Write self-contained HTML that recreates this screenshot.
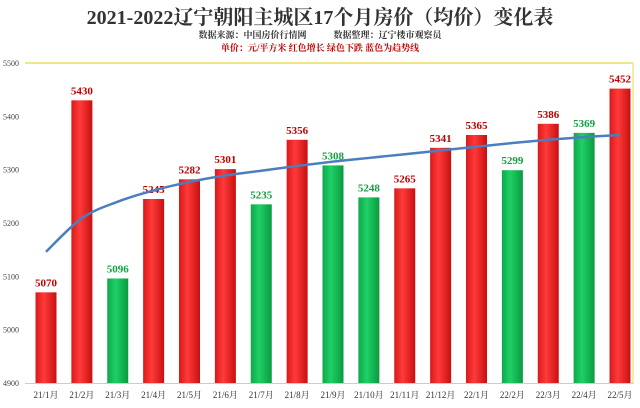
<!DOCTYPE html>
<html><head><meta charset="utf-8"><style>
body{margin:0;background:#fff;}
svg{display:block;font-family:"Liberation Serif","Noto Serif CJK SC",serif;}
</style></head><body>
<svg width="640" height="408" viewBox="0 0 640 408">
<defs>
<linearGradient id="gr" x1="0" x2="1"><stop offset="0" stop-color="#d91a1a"/><stop offset="0.4" stop-color="#ff3a3a"/><stop offset="1" stop-color="#c81010"/></linearGradient>
<linearGradient id="gg" x1="0" x2="1"><stop offset="0" stop-color="#0fa84a"/><stop offset="0.4" stop-color="#1fd066"/><stop offset="1" stop-color="#0a9a40"/></linearGradient>
</defs>
<rect x="0" y="0" width="640" height="408" fill="#fff"/>
<text x="320" y="24" text-anchor="middle" font-size="20" font-weight="bold" fill="#333">2021-2022辽宁朝阳主城区17个月房价（均价）变化表</text>
<text x="320" y="38" text-anchor="middle" font-size="9" font-weight="bold" fill="#333">数据来源：中国房价行情网　　　数据整理：辽宁楼市观察员</text>
<text x="320" y="51" text-anchor="middle" font-size="9" font-weight="bold" fill="#c00000">单价：元/平方米  红色增长  绿色下跌  蓝色为趋势线</text>
<line x1="25" y1="63" x2="633" y2="63" stroke="#ece88a" stroke-width="2"/>
<line x1="633" y1="63" x2="633" y2="384" stroke="#ece88a" stroke-width="1.5"/>
<line x1="25" y1="383.5" x2="633" y2="383.5" stroke="#ccc"/>
<g id="yt"></g>
<g id="bars"></g>
<g id="trend"></g>
<g id="xl"></g>
</svg>
<script>
const categories=["21/1月","21/2月","21/3月","21/4月","21/5月","21/6月","21/7月","21/8月","21/9月","21/10月","21/11月","21/12月","22/1月","22/2月","22/3月","22/4月","22/5月"];
const prices=[5070,5430,5096,5245,5282,5301,5235,5356,5308,5248,5265,5341,5365,5299,5386,5369,5452];
const trendValues=[5146,5209,5240,5261,5277,5289,5298,5307,5315,5322,5329,5336,5343,5350,5356,5361,5365];
const yTicks=[4900,5000,5100,5200,5300,5400,5500];
const NS="http://www.w3.org/2000/svg";
const y=v=>383-(v-4900)*(320/600);
const x=i=>46+i*35.875;
function mk(t,a,p){const e=document.createElementNS(NS,t);for(const k in a)e.setAttribute(k,a[k]);p.appendChild(e);return e;}
const yt=document.getElementById('yt');
yTicks.forEach(v=>{const t=mk('text',{x:3,y:y(v)+3,'font-size':8,fill:'#444'},yt);t.textContent=v;

});
const bars=document.getElementById('bars');
prices.forEach((v,i)=>{
 const up=i===0||v>=prices[i-1];
 const r=mk('rect',{x:x(i)-10.5,y:y(v),width:21,height:383-y(v),fill:up?'url(#gr)':'url(#gg)'},bars);
 
 
 const t=mk('text',{x:x(i),y:y(v)-6,'text-anchor':'middle','font-size':11,'font-weight':'bold',fill:up?'#c00000':'#10a040'},bars);
 t.textContent=v;
 
 
});
const tr=document.getElementById('trend');
const pts=trendValues.map((v,i)=>[x(i),y(v)]);
let d='M'+pts[0][0]+','+pts[0][1];
for(let i=0;i<pts.length-1;i++){
 const p0=pts[Math.max(i-1,0)],p1=pts[i],p2=pts[i+1],p3=pts[Math.min(i+2,pts.length-1)];
 const c1=[p1[0]+(p2[0]-p0[0])/6,p1[1]+(p2[1]-p0[1])/6];
 const c2=[p2[0]-(p3[0]-p1[0])/6,p2[1]-(p3[1]-p1[1])/6];
 d+=' C'+c1+' '+c2+' '+p2;
}
const p=mk('path',{d:d,fill:'none',stroke:'#4a7ec0','stroke-width':2.5},tr);


const xl=document.getElementById('xl');
categories.forEach((c,i)=>{const t=mk('text',{x:x(i),y:398,'text-anchor':'middle','font-size':9,fill:'#333'},xl);t.textContent=c;

});
</script>
</body></html>
